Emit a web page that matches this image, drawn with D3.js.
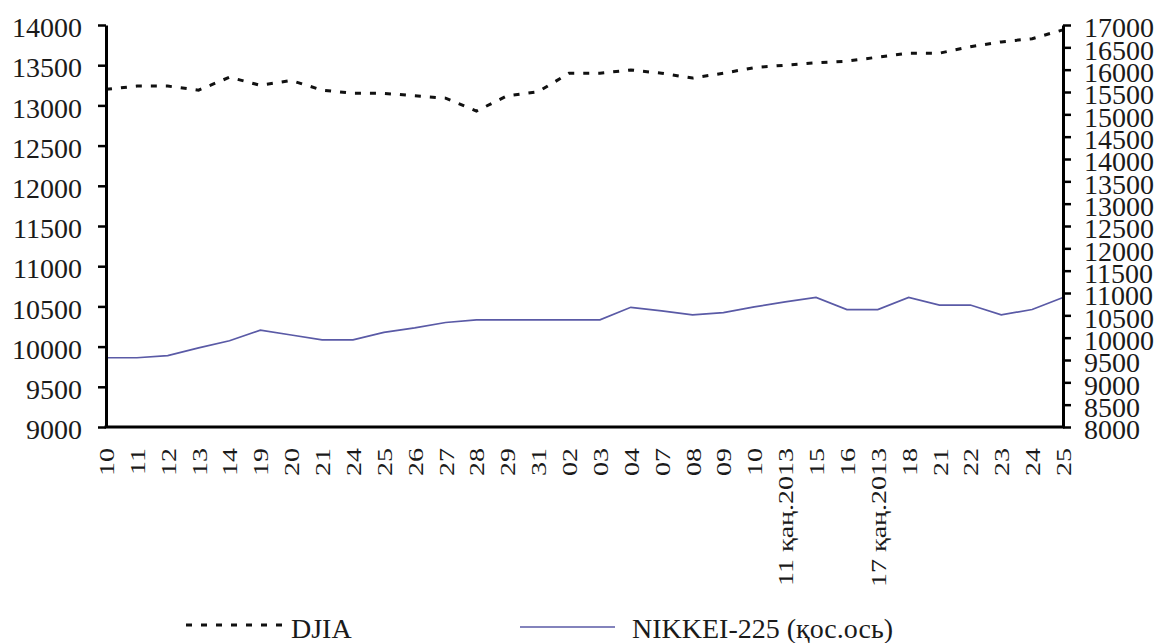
<!DOCTYPE html>
<html>
<head>
<meta charset="utf-8">
<script src="https://cdn.jsdelivr.net/npm/d3@7"></script>
<style>
  html, body { margin: 0; padding: 0; background: #fff; }
  svg { display: block; }
  text { font-family: "Liberation Serif", "Times New Roman", serif; fill: #1a1a1a; }
</style>
</head>
<body>
<svg id="chart" width="1161" height="643"></svg>
<script>
const categories = ["10","11","12","13","14","19","20","21","24","25","26","27","28","29","31","02","03","04","07","08","09","10","11 қаң.2013","15","16","17 қаң.2013","18","21","22","23","24","25"];
const djia = [13200,13240,13240,13190,13350,13250,13310,13190,13150,13150,13120,13090,12930,13120,13170,13400,13400,13440,13400,13340,13400,13470,13500,13530,13550,13600,13650,13650,13730,13790,13830,13940];
const nikkei = [9550,9550,9600,9770,9930,10170,10060,9950,9950,10120,10220,10340,10400,10400,10400,10400,10400,10680,10600,10510,10560,10690,10800,10900,10630,10630,10900,10730,10730,10510,10630,10900];
const leftTicks = d3.range(9000, 14001, 500);
const rightTicks = d3.range(8000, 17001, 500);
const seriesNames = ["DJIA", "NIKKEI-225 (қос.ось)"];

const svg = d3.select("#chart");
const plot = {left: 106, right: 1063, top: 25, bottom: 427};

const x = d3.scalePoint().domain(d3.range(categories.length)).range([plot.left, plot.right]);
const yL = d3.scaleLinear().domain([9000, 14000]).range([plot.bottom, plot.top]);
const yR = d3.scaleLinear().domain([8000, 17000]).range([plot.bottom, plot.top]);

// series lines
const lineL = d3.line().x((d, i) => x(i)).y(d => yL(d));
const lineR = d3.line().x((d, i) => x(i)).y(d => yR(d));

svg.append("path").datum(nikkei)
  .attr("d", lineR).attr("fill", "none")
  .attr("stroke", "#5a5aa6").attr("stroke-width", 1.7);

svg.append("path").datum(djia)
  .attr("d", lineL).attr("fill", "none")
  .attr("stroke", "#111").attr("stroke-width", 3)
  .attr("stroke-dasharray", "6,9");

// left axis
const gL = svg.append("g").attr("transform", `translate(${plot.left},0)`)
  .call(d3.axisLeft(yL).tickValues(leftTicks).tickSize(8).tickSizeOuter(0).tickPadding(16).tickFormat(d3.format("d")));
gL.select(".domain").attr("stroke", "#000").attr("stroke-width", 3);
gL.selectAll(".tick line").attr("stroke", "#000").attr("stroke-width", 2.5);
gL.selectAll(".tick text").attr("font-size", 28).attr("dy", "0.42em")
  .style("font-family", "'Liberation Serif', serif").attr("fill", "#1a1a1a");

// right axis
const gR = svg.append("g").attr("transform", `translate(${plot.right},0)`)
  .call(d3.axisRight(yR).tickValues(rightTicks).tickSize(8).tickSizeOuter(0).tickPadding(13).tickFormat(d3.format("d")));
gR.select(".domain").attr("stroke", "#000").attr("stroke-width", 3);
gR.selectAll(".tick line").attr("stroke", "#000").attr("stroke-width", 2.5);
gR.selectAll(".tick text").attr("font-size", 28).attr("dy", "0.42em")
  .style("font-family", "'Liberation Serif', serif").attr("fill", "#1a1a1a");

// bottom axis
const gB = svg.append("g").attr("transform", `translate(0,${plot.bottom})`)
  .call(d3.axisBottom(x).tickSize(0).tickSizeOuter(0).tickFormat(i => categories[i]));
gB.select(".domain").attr("stroke", "#000").attr("stroke-width", 3)
  .attr("d", `M${plot.left - 1.5},0H${plot.right + 1.5}`);
gB.selectAll(".tick text")
  .attr("font-size", 28)
  .attr("text-anchor", "end")
  .attr("x", 0).attr("y", 0).attr("dy", null)
  .attr("transform", "translate(0,21) rotate(-90) scale(1,0.75) translate(0,10)")
  .style("font-family", "'Liberation Serif', serif").attr("fill", "#1a1a1a");

// legend
const leg = svg.append("g");
leg.append("line").attr("x1", 186).attr("x2", 284).attr("y1", 625).attr("y2", 625)
  .attr("stroke", "#111").attr("stroke-width", 3).attr("stroke-dasharray", "6,9");
leg.append("text").attr("x", 291).attr("y", 638).attr("font-size", 28).text(seriesNames[0]);
leg.append("line").attr("x1", 520).attr("x2", 615).attr("y1", 627).attr("y2", 627)
  .attr("stroke", "#5a5aa6").attr("stroke-width", 1.7);
leg.append("text").attr("x", 632).attr("y", 638).attr("font-size", 28).text(seriesNames[1]);
</script>
</body>
</html>
